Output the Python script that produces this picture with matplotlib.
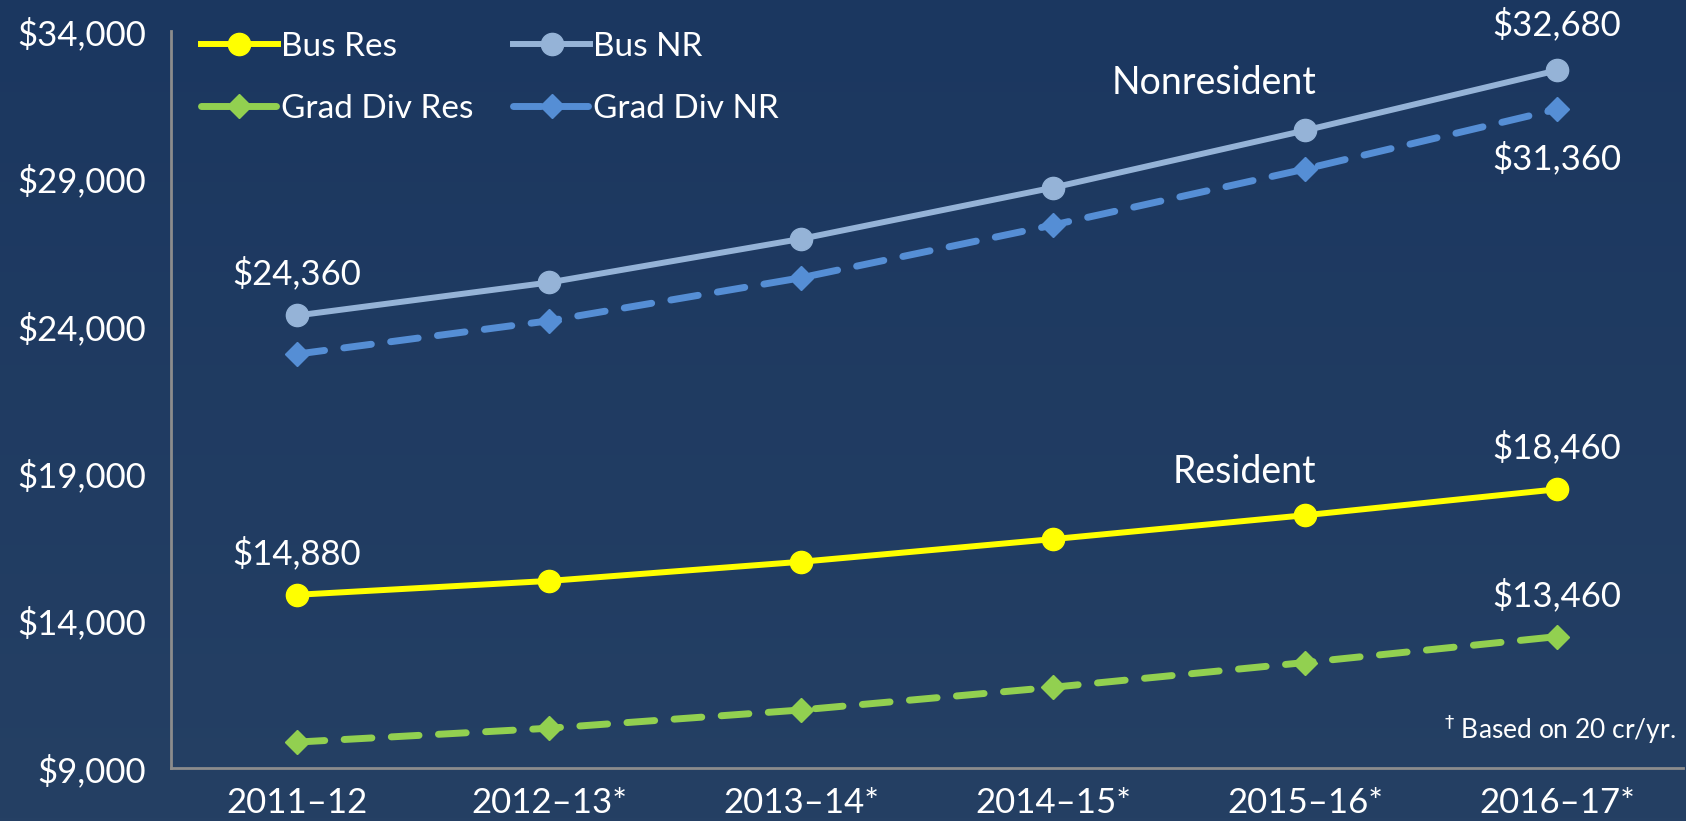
import numpy as np
import matplotlib
matplotlib.use("Agg")
import matplotlib.pyplot as plt
from matplotlib.colors import LinearSegmentedColormap

plt.rcParams['font.family'] = ['Lato', 'DejaVu Sans']

years = ["2011\u201312", "2012\u201313*", "2013\u201314*", "2014\u201315*", "2015\u201316*", "2016\u201317*"]
bus_res = [14880, 15350, 16000, 16770, 17580, 18460]
bus_nr = [24360, 25480, 26960, 28700, 30640, 32680]
grad_res = [9880, 10350, 10970, 11740, 12580, 13460]
grad_nr = [23050, 24180, 25640, 27430, 29330, 31360]
y_ticks = [9000, 14000, 19000, 24000, 29000, 34000]

fig = plt.figure(figsize=(16.86, 8.21), dpi=100)

# background gradient behind everything
bg = fig.add_axes([0, 0, 1, 1], zorder=-10)
cmap = LinearSegmentedColormap.from_list("bg", ["#1b3760", "#254064"])
bg.imshow(np.linspace(0, 1, 256).reshape(-1, 1), aspect="auto", cmap=cmap, extent=[0, 1, 0, 1])
bg.axis("off")

W, H = 1686, 821
ax = fig.add_axes([171 / W, 1 - 768 / H, (1683 - 171) / W, (768 - 31.5) / H])
ax.set_facecolor("none")

x = np.arange(len(years))
l1, = ax.plot(x, bus_res, color="#ffff00", lw=4.3, marker="o", ms=16, label="Bus Res", zorder=4)
l2, = ax.plot(x, bus_nr, color="#95b3d7", lw=4.3, marker="o", ms=16, label="Bus NR", zorder=4)
l3, = ax.plot(x, grad_res, color="#92d050", lw=5, marker="D", ms=12, label="Grad Div Res",
              dashes=(4, 2.8), dash_capstyle="round", zorder=3)
l4, = ax.plot(x, grad_nr, color="#558ed5", lw=5, marker="D", ms=12, label="Grad Div NR",
              dashes=(4, 2.8), dash_capstyle="round", zorder=3)

ax.set_xlim(-0.5, 5.5)
ax.set_ylim(9000, 34000)
ax.set_xticks(x)
ax.set_xticklabels(years)
ax.set_yticks(y_ticks)
ax.set_yticklabels(["${:,}".format(v) for v in y_ticks])
ax.tick_params(colors="white", labelsize=25, length=0, pad=14)
ax.tick_params(axis="y", pad=18)
for s in ["top", "right"]:
    ax.spines[s].set_visible(False)
for s in ["left", "bottom"]:
    ax.spines[s].set_color("#8c8c8c")
    ax.spines[s].set_linewidth(2)

fs = 25
ax.annotate("${:,}".format(bus_nr[0]), (0, bus_nr[0]), xytext=(0, 30), textcoords="offset points",
            ha="center", va="center", color="white", fontsize=fs)
ax.annotate("${:,}".format(bus_res[0]), (0, bus_res[0]), xytext=(0, 30), textcoords="offset points",
            ha="center", va="center", color="white", fontsize=fs)
ax.annotate("${:,}".format(bus_nr[-1]), (5, bus_nr[-1]), xytext=(0, 33), textcoords="offset points",
            ha="center", va="center", color="white", fontsize=fs)
ax.annotate("${:,}".format(grad_nr[-1]), (5, grad_nr[-1]), xytext=(0, -35), textcoords="offset points",
            ha="center", va="center", color="white", fontsize=fs)
ax.annotate("${:,}".format(bus_res[-1]), (5, bus_res[-1]), xytext=(0, 30), textcoords="offset points",
            ha="center", va="center", color="white", fontsize=fs)
ax.annotate("${:,}".format(grad_res[-1]), (5, grad_res[-1]), xytext=(0, 30), textcoords="offset points",
            ha="center", va="center", color="white", fontsize=fs)

ax.text(3.64, 32250, "Nonresident", color="white", fontsize=27, ha="center", va="center")
ax.text(3.76, 19050, "Resident", color="white", fontsize=27, ha="center", va="center")
ax.text(0.995, 0.03, "$^\u2020$ Based on 20 cr/yr.", transform=ax.transAxes, color="white",
        fontsize=19, ha="right", va="bottom")

# row-wise order: Bus Res, Bus NR / Grad Div Res, Grad Div NR
leg = ax.legend([l1, l3, l2, l4], ["Bus Res", "Grad Div Res", "Bus NR", "Grad Div NR"],
                loc="upper left", ncol=2, frameon=False, fontsize=24, handlelength=2.3,
                handletextpad=0.1, columnspacing=1.2, labelspacing=0.95,
                bbox_to_anchor=(0.0, 1.04))
for t in leg.get_texts():
    t.set_color("white")

fig.savefig("out.png", dpi=100)
